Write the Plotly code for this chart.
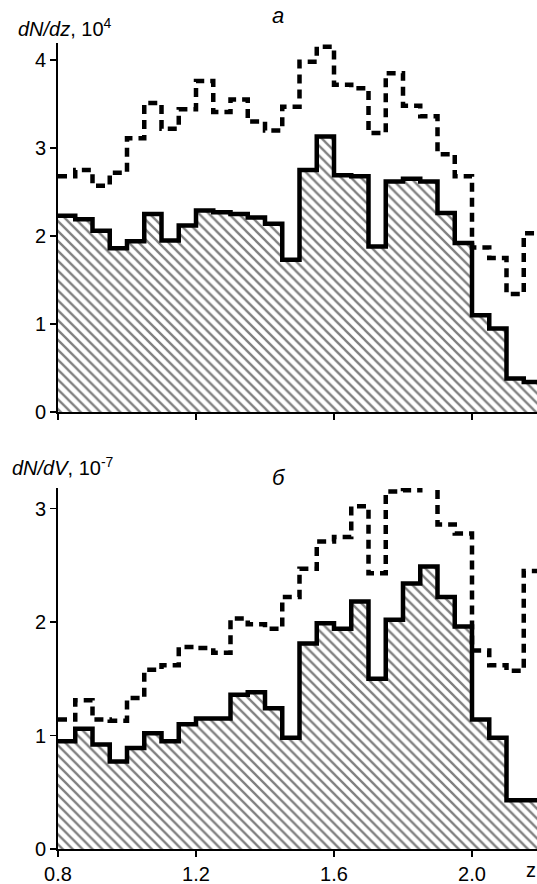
import plotly.graph_objects as go

# Bin edges in z (bin width 0.05)
z_edges = [0.80, 0.85, 0.90, 0.95, 1.00, 1.05, 1.10, 1.15, 1.20, 1.25, 1.30, 1.35, 1.40, 1.45,
           1.50, 1.55, 1.60, 1.65, 1.70, 1.75, 1.80, 1.85, 1.90, 1.95, 2.00, 2.05, 2.10, 2.15, 2.20]

# Panel a: dN/dz, 10^4
a_total = [2.68, 2.75, 2.57, 2.72, 3.11, 3.51, 3.22, 3.44, 3.76, 3.41, 3.55, 3.30, 3.20, 3.47,
           3.98, 4.15, 3.72, 3.68, 3.17, 3.85, 3.48, 3.36, 2.93, 2.68, 1.87, 1.75, 1.34, 2.03]
a_hatched = [2.23, 2.19, 2.06, 1.86, 1.94, 2.25, 1.95, 2.12, 2.29, 2.27, 2.25, 2.21, 2.14, 1.73,
             2.75, 3.13, 2.69, 2.68, 1.88, 2.62, 2.65, 2.62, 2.26, 1.92, 1.10, 0.95, 0.38, 0.34]

# Panel b: dN/dV, 10^-7
b_total = [1.14, 1.31, 1.14, 1.13, 1.33, 1.58, 1.62, 1.78, 1.77, 1.73, 2.03, 1.98, 1.94, 2.22,
           2.47, 2.71, 2.75, 3.02, 2.43, 3.15, 3.16, 3.27, 2.86, 2.78, 1.75, 1.62, 1.57, 2.45]
b_hatched = [0.95, 1.06, 0.92, 0.77, 0.89, 1.02, 0.95, 1.10, 1.15, 1.15, 1.36, 1.38, 1.24, 0.98,
             1.81, 1.99, 1.94, 2.18, 1.50, 2.02, 2.34, 2.49, 2.22, 1.96, 1.14, 0.98, 0.43, 0.43]

x_tickvals = [0.8, 1.2, 1.6, 2.0]
x_ticktext = ["0.8", "1.2", "1.6", "2.0"]
a_yticks = [0, 1, 2, 3, 4]
b_yticks = [0, 1, 2, 3]

FONT = "Liberation Sans, Arial, sans-serif"


def steps(vals):
    return list(z_edges), list(vals) + [vals[-1]]


fig = go.Figure()


def add_panel(hatched, total, xa, ya):
    xs, ys = steps(hatched)
    fig.add_trace(go.Scatter(
        x=xs, y=ys, mode="lines", line=dict(shape="hv", color="black", width=4.5),
        fill="tozeroy", fillcolor="white",
        fillpattern=dict(shape="\\", size=7, solidity=0.33, fgcolor="black", bgcolor="white"),
        xaxis=xa, yaxis=ya, showlegend=False, hoverinfo="skip"))
    xs2, ys2 = steps(total)
    fig.add_trace(go.Scatter(
        x=xs2, y=ys2, mode="lines",
        line=dict(shape="hv", color="black", width=4.5, dash="9px,6px"),
        xaxis=xa, yaxis=ya, showlegend=False, hoverinfo="skip"))


add_panel(a_hatched, a_total, "x", "y")
add_panel(b_hatched, b_total, "x2", "y2")

# body margin is removed by the post script, so the figure starts at window (0, 0)
W, H = 537, 884
ml, mr, mt, mb = 58, 0, 43, 35
pw = W - ml - mr
ph = H - mt - mb
xmax = 0.8 + pw / 345.0


def px(xp):
    return (xp - ml) / pw


def py(yp):
    return (H - mb - yp) / ph


axis_common = dict(showgrid=False, zeroline=False, showline=True, linecolor="black", linewidth=1.8,
                   ticks="outside", ticklen=6, tickwidth=1.5, tickcolor="black", automargin=False,
                   tickfont=dict(family=FONT, size=20, color="black"))

top_dom = [py(412), 1.0]
bot_dom = [0.0, py(488)]

fig.update_layout(
    width=W, height=H,
    margin=dict(l=ml, r=mr, t=mt, b=mb, autoexpand=False),
    paper_bgcolor="white", plot_bgcolor="white",
    xaxis=dict(range=[0.8, xmax], domain=[0, 1], anchor="y", tickvals=x_tickvals,
               showticklabels=False, **axis_common),
    yaxis=dict(range=[0, 369 / 88.0], domain=top_dom, anchor="x", tickvals=a_yticks, **axis_common),
    xaxis2=dict(range=[0.8, xmax], domain=[0, 1], anchor="y2", tickvals=x_tickvals,
                ticktext=x_ticktext, **axis_common),
    yaxis2=dict(range=[0, 361 / 113.5], domain=bot_dom, anchor="x2", tickvals=b_yticks, **axis_common),
    annotations=[
        dict(text="<i>dN/dz</i>, 10<sup>4</sup>", x=px(16), y=py(27), xref="paper", yref="paper",
             xanchor="left", yanchor="middle", showarrow=False,
             font=dict(family=FONT, size=20, color="black")),
        dict(text="<i>а</i>", x=px(278), y=py(16), xref="paper", yref="paper",
             xanchor="center", yanchor="middle", showarrow=False,
             font=dict(family=FONT, size=22, color="black")),
        dict(text="<i>dN/dV</i>, 10<sup>-7</sup>", x=px(10), y=py(466), xref="paper", yref="paper",
             xanchor="left", yanchor="middle", showarrow=False,
             font=dict(family=FONT, size=20, color="black")),
        dict(text="<i>б</i>", x=px(279), y=py(478), xref="paper", yref="paper",
             xanchor="center", yanchor="middle", showarrow=False,
             font=dict(family=FONT, size=22, color="black")),
        dict(text="z", x=px(531), y=py(870), xref="paper", yref="paper",
             xanchor="center", yanchor="middle", showarrow=False,
             font=dict(family=FONT, size=20, color="black")),
    ],
)

post = ("document.documentElement.style.margin='0';document.documentElement.style.padding='0';"
        "document.documentElement.style.overflow='hidden';"
        "document.body.style.margin='0';document.body.style.padding='0';"
        "document.body.style.overflow='hidden';")
fig.write_html("out.html", post_script=post, config={"displayModeBar": False, "staticPlot": True})
